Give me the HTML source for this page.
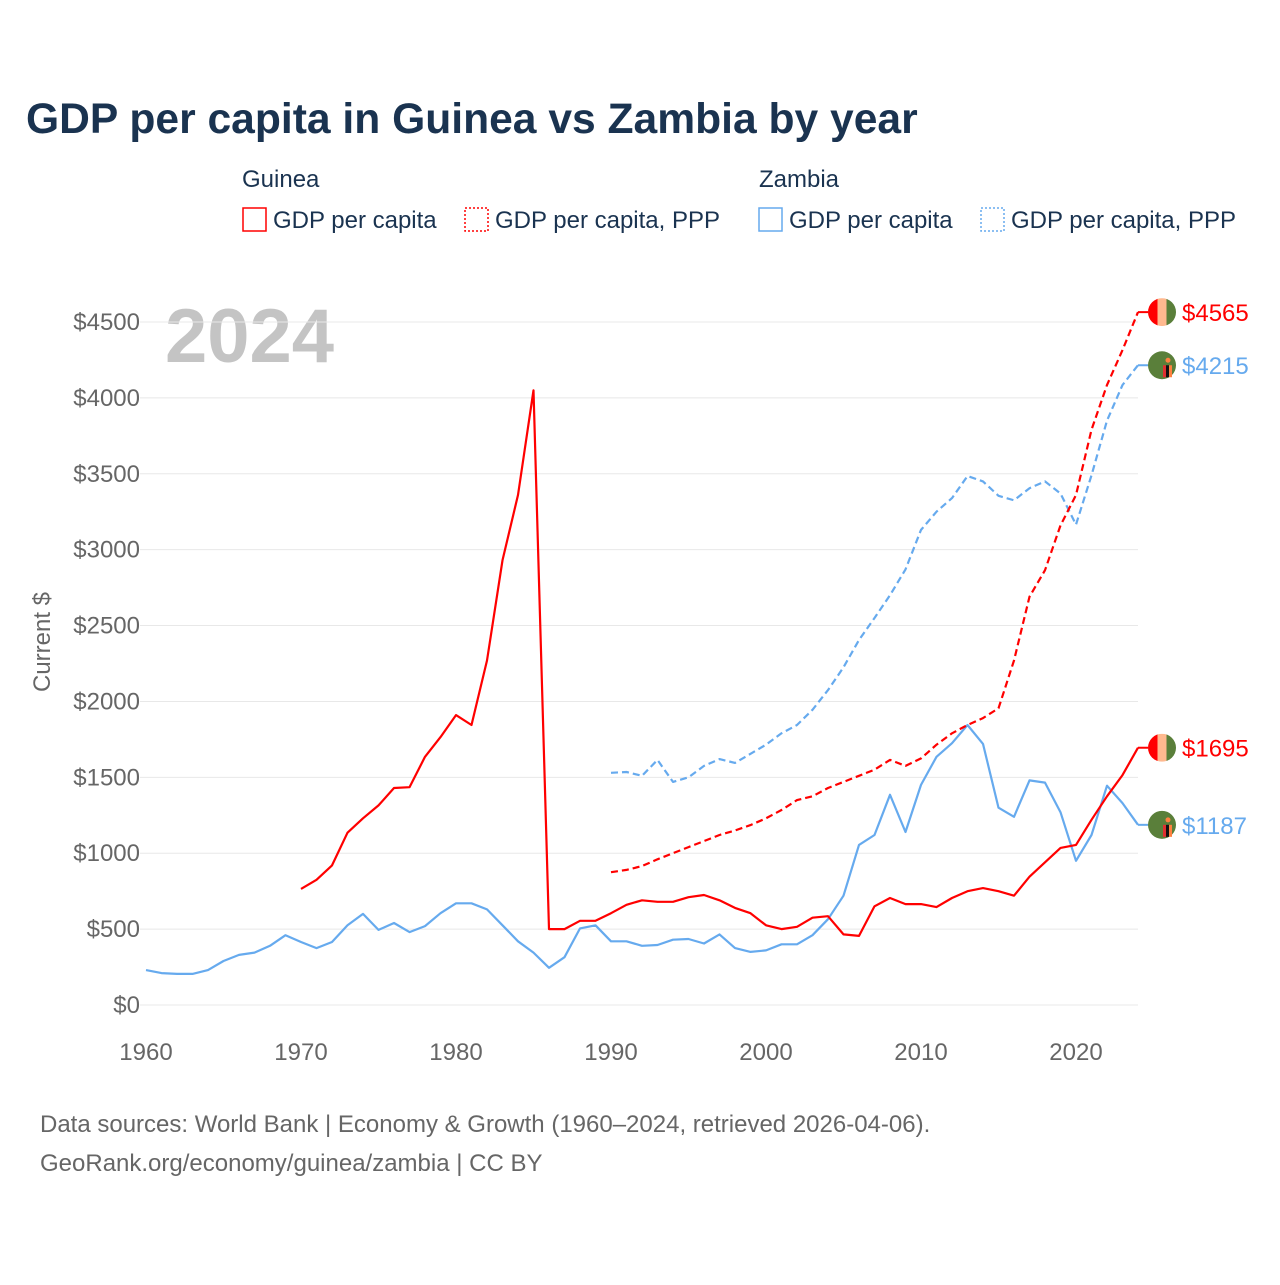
<!DOCTYPE html>
<html><head><meta charset="utf-8"><style>
body{margin:0;background:#fff;font-family:"Liberation Sans",sans-serif}
</style></head><body>
<svg id="chart" width="1280" height="1280" viewBox="0 0 1280 1280" xmlns="http://www.w3.org/2000/svg">
<text x="26" y="133" font-size="42.6" font-weight="bold" fill="#1a3350">GDP per capita in Guinea vs Zambia by year</text>
<g font-size="24" fill="#1a3350">
<text x="242" y="187">Guinea</text>
<text x="759" y="187">Zambia</text>
<g><rect x="243" y="208" width="23" height="23" fill="none" stroke="#f00" stroke-width="1.5"/><text x="273" y="228">GDP per capita</text></g>
<g><rect x="465" y="208" width="23" height="23" fill="none" stroke="#f00" stroke-width="1.5" stroke-dasharray="2,2"/><text x="495" y="228">GDP per capita, PPP</text></g>
<g><rect x="759" y="208" width="23" height="23" fill="none" stroke="#66aaee" stroke-width="1.5"/><text x="789" y="228">GDP per capita</text></g>
<g><rect x="981" y="208" width="23" height="23" fill="none" stroke="#66aaee" stroke-width="1.5" stroke-dasharray="2,2"/><text x="1011" y="228">GDP per capita, PPP</text></g>
</g>
<text x="165" y="362" font-size="76" font-weight="bold" fill="#c4c4c4">2024</text>
<g id="grid"></g><g id="axes"></g><g id="series"></g><g id="ends"></g>
<text transform="translate(50,642) rotate(-90)" text-anchor="middle" font-size="24" fill="#666">Current $</text>
<text x="40" y="1132" font-size="24" fill="#666">Data sources: World Bank | Economy &amp; Growth (1960–2024, retrieved 2026-04-06).</text>
<text x="40" y="1171" font-size="24" fill="#666">GeoRank.org/economy/guinea/zambia | CC BY</text>
</svg>
<script>
const yTicks=[0,500,1000,1500,2000,2500,3000,3500,4000,4500];
const xTicks=[1960,1970,1980,1990,2000,2010,2020];
const zambiaStart=1960;
const zambiaGdp=[230,210,205,205,230,290,330,345,390,460,415,375,415,525,600,495,540,480,520,605,670,670,630,525,420,345,245,315,505,525,420,420,390,395,430,435,405,465,375,350,360,400,400,460,565,720,1055,1120,1385,1140,1450,1635,1725,1845,1720,1300,1240,1480,1465,1270,950,1120,1445,1330,1187];
const guineaStart=1970;
const guineaGdp=[765,825,920,1135,1230,1315,1430,1435,1635,1765,1910,1845,2270,2930,3360,4050,500,500,555,555,605,660,690,680,680,710,725,690,640,605,525,500,515,575,585,465,455,650,705,665,665,645,705,750,770,750,720,845,940,1035,1055,1220,1375,1515,1695];
const pppStart=1990;
const zambiaPpp=[1530,1535,1510,1615,1470,1500,1575,1620,1595,1655,1715,1790,1845,1945,2075,2225,2405,2550,2700,2870,3130,3250,3340,3485,3450,3355,3325,3405,3450,3370,3165,3490,3850,4085,4215];
const guineaPpp=[875,890,915,960,1000,1040,1080,1120,1150,1185,1230,1285,1350,1375,1430,1470,1510,1550,1615,1575,1625,1715,1790,1845,1890,1955,2270,2690,2865,3160,3360,3790,4085,4315,4565];
const endLabels=["$4565","$4215","$1695","$1187"];

const NS="http://www.w3.org/2000/svg";
const X=y=>146+(y-1960)*15.5;
const Y=v=>1005-v*0.15178;
function mk(t,a,p){const e=document.createElementNS(NS,t);for(const k in a)e.setAttribute(k,a[k]);p.appendChild(e);return e;}
const grid=document.getElementById('grid'),axes=document.getElementById('axes'),ser=document.getElementById('series'),ends=document.getElementById('ends');
yTicks.forEach(v=>{
 const l=mk('line',{x1:140,x2:1138,y1:Y(v),y2:Y(v),stroke:'#e8e8e8','stroke-width':1},grid);
 
 
 const t=mk('text',{x:140,y:Y(v)+8,'text-anchor':'end','font-size':24,fill:'#666'},axes);
 t.textContent='$'+v;
 
 
});
xTicks.forEach(y=>{
 const t=mk('text',{x:X(y),y:1060,'text-anchor':'middle','font-size':24,fill:'#666'},axes);
 t.textContent=y;
 
 
});
function line(start,vals,color,dash,name){
 const d=vals.map((v,i)=>(i?'L':'M')+X(start+i).toFixed(1)+','+Y(v).toFixed(1)).join('');
 const p=mk('path',{d:d,fill:'none',stroke:color,'stroke-width':2.2,'stroke-linejoin':'round'},ser);
 if(dash)p.setAttribute('stroke-dasharray','7,4');
 
 
}
line(zambiaStart,zambiaGdp,'#66aaee',false,'zambia-gdp-line');
line(guineaStart,guineaGdp,'#ff0000',false,'guinea-gdp-line');
line(pppStart,zambiaPpp,'#66aaee',true,'zambia-ppp-line');
line(pppStart,guineaPpp,'#ff0000',true,'guinea-ppp-line');
const endVals=[guineaPpp[guineaPpp.length-1],zambiaPpp[zambiaPpp.length-1],guineaGdp[guineaGdp.length-1],zambiaGdp[zambiaGdp.length-1]];
const endCols=['#ff0000','#66aaee','#ff0000','#66aaee'];
const endFlag=['guinea','zambia','guinea','zambia'];
endVals.forEach((v,i)=>{
 const y=Y(v),cx=1162;
 const g=mk('g',{},ends);
 
 
 mk('line',{x1:1138,x2:1148,y1:y,y2:y,stroke:endCols[i],'stroke-width':2},g);
 if(endFlag[i]==='guinea'){
  const cid='c'+i;
  const cp=mk('clipPath',{id:cid},g);mk('circle',{cx:cx,cy:y,r:14},cp);
  mk('rect',{x:cx-14,y:y-14,width:10,height:28,fill:'#ff0000','clip-path':'url(#'+cid+')'},g);
  mk('rect',{x:cx-4.5,y:y-14,width:9,height:28,fill:'#ffb98f','clip-path':'url(#'+cid+')'},g);
  mk('rect',{x:cx+4.5,y:y-14,width:10,height:28,fill:'#5a7f3a','clip-path':'url(#'+cid+')'},g);
 }else{
  mk('circle',{cx:cx,cy:y,r:14},g).setAttribute('fill','#5a7f3a');
  mk('rect',{x:cx+1,y:y,width:3,height:12,fill:'#e03030'},g);
  mk('rect',{x:cx+4,y:y,width:3,height:12,fill:'#111'},g);
  mk('rect',{x:cx+7,y:y,width:3,height:12,fill:'#ff8040'},g);
  mk('circle',{cx:cx+6,cy:y-5,r:2.5,fill:'#ff8040'},g);
 }
 const t=mk('text',{x:1182,y:y+9,'font-size':24,fill:endCols[i]},g);
 t.textContent=endLabels[i];
});
</script>
</body></html>
